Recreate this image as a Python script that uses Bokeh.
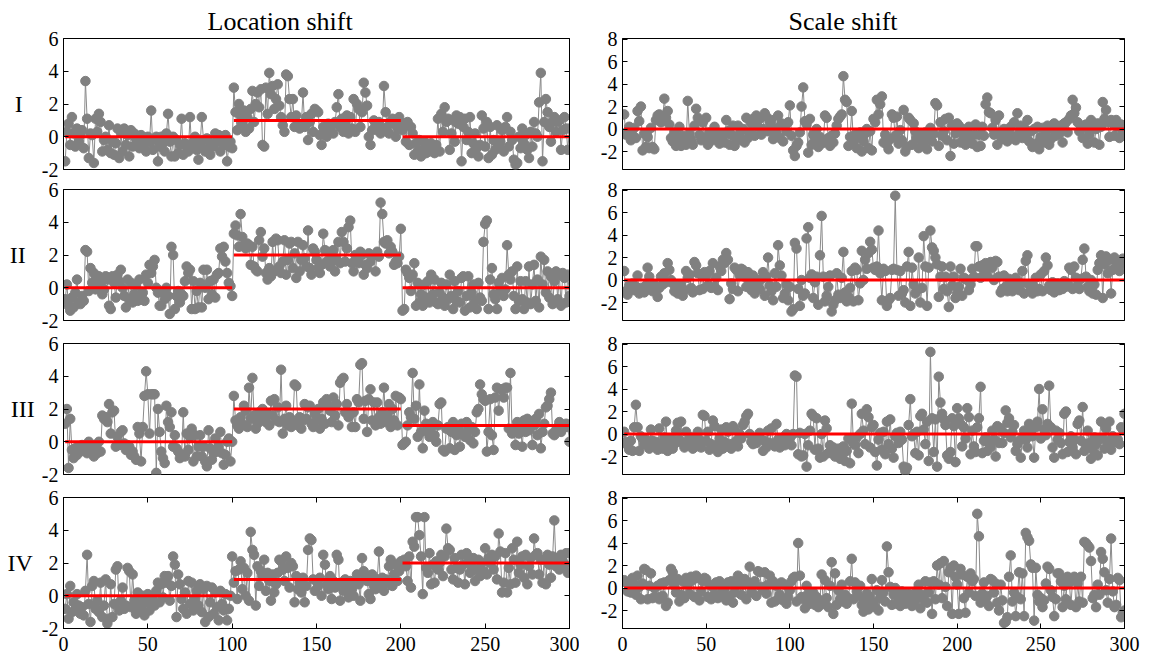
from bokeh.plotting import figure
from bokeh.layouts import column, row
from bokeh.models import Range1d, LinearAxis, FixedTicker, Title
from bokeh.embed import file_html
from bokeh.resources import INLINE

# ---------------- data ----------------
loc_I = [
    -1.5, 0.3, 0.8, -0.5, 1.2, 0.2, -0.6, 0.5, -0.3, 0.1,
    0.4, -0.7, 3.4, 1.1, -1.3, 0.2, 0.1, -1.6, 1.1, 0.3,
    1.4, 0.9, -0.9, -0.2, 0.0, -0.8, 0.7, -1.0, -0.3, -1.1,
    -0.4, 0.5, -1.3, 0.3, -0.9, 0.5, -0.5, 0.1, -1.2, 0.4,
    -0.6, 0.2, -0.1, -0.4, -0.7, 0.1, -0.2, -0.5, -0.9, 0.0,
    -0.3, 1.6, -0.8, -0.2, 0.0, -1.5, -0.6, 0.0, -0.4, -0.9,
    0.2, 1.4, -0.3, -1.2, 0.0, -1.2, -0.2, -1.0, -0.5, 1.1,
    -1.1, -0.4, -0.6, -0.9, 1.2, -0.7, -0.3, 0.0, -0.8, -1.4,
    -0.5, 1.2, -0.2, -0.9, -0.1, -0.7, -1.1, -0.4, -0.6, 0.2,
    -0.3, 0.1, -0.9, -0.2, -0.5, 0.1, -1.5, -0.6, -0.3, -0.7,
    3.0, 1.5, 0.4, 2.0, 1.3, 0.8, 1.6, 0.3, 1.2, 0.5,
    1.7, 2.8, 0.9, 2.0, 2.7, 1.8, 2.9, -0.5, -0.6, 3.0,
    1.4, 3.9, 2.6, 3.1, 1.7, 2.3, 3.2, 1.9, 1.2, 0.7,
    0.3, 3.8, 3.7, 2.3, 1.2, 2.3, 0.6, 1.3, 0.8, 0.5,
    0.7, 2.7, 0.6, 1.2, -0.2, 0.9, 1.4, 0.3, 1.7, 1.6,
    1.5, 0.1, -0.5, 0.6, 0.4, 0.0, 0.8, 0.5, 0.7, 0.2,
    0.9, 1.8, 2.6, 0.6, 1.1, 0.3, 0.8, 1.3, 0.2, 1.2,
    0.5, 2.3, 0.3, 2.0, 1.7, 0.6, 1.5, 3.3, 2.7, 1.9,
    0.0, -0.5, 0.4, 1.0, 0.7, 0.4, 0.9, 0.2, 0.5, 3.1,
    1.5, 0.6, 0.2, 0.9, 1.1, 0.8, 0.0, 0.5, 1.2, 0.6,
    0.4, 0.8, -0.3, 0.9, -0.5, 0.6, 0.2, -1.1, -0.4, -0.9,
    -0.2, -1.2, -0.8, -0.3, -1.0, -0.6, -0.9, -0.4, -0.7, -1.0,
    -0.5, 1.1, -0.9, 1.4, 0.3, 1.8, 0.9, 1.1, -0.8, 0.2,
    1.0, -0.3, 1.3, 0.8, 1.2, -1.5, 0.6, 1.1, -0.2, 0.3,
    1.2, -1.0, -0.4, 0.2, -0.7, -1.2, -0.5, 1.3, 0.5, -0.6,
    0.9, -1.3, 0.6, -1.1, -0.2, -0.8, 0.7, -0.5, -0.3, 0.4,
    -0.9, 0.6, 1.2, -0.6, 0.3, -0.2, -1.4, -1.7, -1.6, 0.0,
    -0.7, 0.5, -0.4, 0.1, -0.8, -1.3, 0.3, -0.6, 0.9, 0.2,
    0.0, 2.1, 3.9, -1.5, 0.9, 2.3, 1.5, 0.6, -0.3, 0.9,
    1.2, 0.3, 0.9, 1.0, -0.8, 0.4, 1.2, 0.5, -0.8, 0.5,
]

loc_II = [
    -0.7, 0.2, -1.1, -1.4, -0.6, -1.2, -0.3, 0.5, -0.9, -1.0,
    -0.5, -0.8, 2.3, 2.2, -0.2, 1.2, 0.3, 0.9, -0.1, 0.6,
    0.7, 0.2, -0.4, -0.1, 0.7, 0.5, -1.1, -1.3, 0.7, 0.3,
    -0.6, 0.8, 0.4, 1.1, 0.0, -0.5, -1.2, 0.5, -0.7, 0.3,
    -0.9, -0.4, 0.1, -0.8, 0.5, -0.6, -0.3, -0.8, 0.8, 0.3,
    1.4, 0.9, 1.3, 1.7, 0.0, -0.3, -1.1, -1.1, -0.3, -0.7,
    0.0, -0.5, -1.6, 2.5, 2.0, -1.3, -0.5, -0.2, -0.9, -0.4,
    -0.5, 0.4, 1.3, 0.9, 1.1, -1.3, 0.4, -1.3, -0.2, -1.2,
    0.3, -1.2, 1.1, 0.0, 1.1, -0.7, 0.4, -0.4, 0.5, -0.6,
    0.8, 0.9, 2.4, 1.9, 2.5, 1.6, 0.9, 0.3, 0.1, -0.5,
    3.3, 3.8, 3.2, 2.5, 4.5, 3.1, 2.6, 2.4, 2.7, 2.6,
    1.4, 2.5, 1.3, 1.1, 1.0, 2.9, 3.4, 1.9, 2.4, 0.9,
    0.5, 1.2, 0.7, 2.8, 1.0, 3.0, 2.9, 1.3, 0.9, 1.6,
    2.9, 0.8, 1.7, 2.7, 2.8, 1.2, 2.1, 0.6, 2.8, 1.0,
    1.7, 2.6, 1.8, 1.3, 3.5, 1.2, 0.8, 2.4, 2.2, 1.7,
    1.2, 0.9, 1.4, 3.3, 2.3, 1.6, 2.2, 1.3, 1.8, 2.3,
    1.0, 1.7, 2.8, 1.5, 3.4, 2.8, 1.6, 2.4, 3.7, 4.1,
    1.5, 1.0, 2.0, 1.8, 1.5, 2.2, 2.0, 0.8, 1.4, 1.2,
    2.1, 1.6, 1.9, 2.0, 1.0, 2.2, 1.9, 5.2, 4.5, 2.8,
    2.7, 2.9, 2.1, 2.5, 2.2, 1.4, 1.6, 1.5, 1.9, 3.6,
    -1.4, -1.3, 1.1, 0.9, 0.6, -0.2, 0.8, 1.5, -1.1, 0.3,
    -0.9, -0.4, -1.1, 0.2, -0.6, 0.4, -0.9, 0.8, -0.4, 0.5,
    -0.9, -1.0, -0.3, 0.3, -0.6, -1.1, 0.2, -0.7, 0.8, -0.5,
    -1.3, 0.4, -0.8, -0.2, -0.9, 0.6, 0.7, -1.4, -0.5, 0.7,
    -1.2, -0.3, 0.2, -0.8, -1.3, 0.3, -0.6, -0.8, 2.8, 3.9,
    4.1, -1.3, 0.5, 1.2, -0.4, -0.7, -1.3, 0.3, -0.2, 0.6,
    -0.5, -0.1, 2.6, 0.8, 0.5, 1.0, -0.5, -1.3, 1.3, -0.8,
    0.4, -0.7, -1.3, 0.4, -0.9, 1.3, -1.0, 0.2, 1.4, -0.8,
    0.5, -1.2, 1.9, 0.2, 1.7, -0.3, 1.0, -0.6, 0.7, -1.0,
    0.4, 1.0, -0.7, 0.8, -1.1, 0.9, 0.6, -0.9, 0.8, -0.5,
]

loc_III = [
    1.1, 2.0, -1.6, 1.4, -0.5, -1.0, -0.4, -0.8, -0.3, -0.6,
    -0.2, -0.5, -0.3, -0.7, 0.0, -0.4, -0.6, -0.9, -0.2, -0.7,
    0.0, -0.6, 1.6, 1.4, 1.5, 1.2, 2.3, 0.5, 1.8, 1.9,
    -0.3, 0.3, -0.2, 0.6, 0.7, -0.1, -0.5, -0.2, -0.3, -0.8,
    -0.6, -0.9, -1.1, 0.9, 0.5, -1.2, 0.9, 2.8, 4.3, 2.9,
    0.5, 2.9, 2.9, 2.9, -1.9, 2.0, 0.6, -0.6, -1.0, -1.3,
    2.2, 1.2, 0.9, 1.8, -0.3, 0.4, -0.4, -0.6, -1.0, -0.8,
    1.8, -0.9, 0.5, -0.5, 0.3, 0.8, -1.2, 0.4, -0.9, -0.3,
    0.4, -0.9, -0.3, -1.2, -1.5, 0.7, -0.4, -1.1, -0.7, 0.2,
    -0.6, -0.3, 0.6, -0.7, -1.4, -0.8, 0.0, 0.2, -1.2, 0.0,
    2.8, 1.3, 1.0, 0.8, 1.5, 1.1, 2.2, 1.9, 0.9, 3.3,
    1.4, 3.9, 1.6, 0.8, 1.1, 1.8, 1.3, 2.0, 1.5, 1.2,
    1.7, 1.0, 2.5, 1.6, 2.6, 1.3, 2.1, 1.2, 4.4, 0.5,
    1.4, 2.2, 1.0, 1.5, 0.9, 1.3, 3.5, 3.4, 1.0, 1.5,
    0.8, 1.3, 2.3, 1.4, 2.1, 2.2, 1.1, 0.9, 1.7, 1.3,
    2.0, 0.8, 1.4, 2.4, 1.1, 2.6, 2.2, 1.9, 1.2, 2.7,
    1.6, 2.3, 1.0, 3.6, 3.8, 3.9, 1.8, 2.3, 1.5, 1.7,
    0.9, 1.8, 0.9, 2.6, 2.4, 4.7, 4.8, 1.4, 2.5, 0.6,
    2.6, 3.2, 1.3, 2.4, 1.0, 2.4, 1.5, 1.1, 1.8, 3.3,
    1.2, 1.6, 2.3, 0.9, 2.0, 1.3, 2.8, 1.0, 2.7, 2.6,
    -0.2, -0.1, 0.0, 1.0, 1.8, 1.5, 4.2, 1.4, 2.2, 0.3,
    3.5, 0.6, -0.4, 1.9, 1.1, 0.6, 0.3, 0.9, 1.2, 0.4,
    0.0, 1.0, 2.3, 2.4, -0.5, -0.6, 0.8, 0.9, -0.4, 0.6,
    1.2, -0.5, 0.4, 0.8, -0.3, 1.1, 0.5, 0.3, 1.2, 0.7,
    0.1, 0.9, -0.1, 0.6, 1.8, 2.0, 3.5, 2.9, 2.6, 2.5,
    -0.6, 0.6, 2.6, 0.4, -0.5, 2.7, 3.3, 1.9, 3.2, 3.2,
    2.7, 3.3, 3.3, 0.8, 4.2, 0.5, 0.7, -0.2, 1.2, 0.5,
    0.8, -0.3, 1.3, 0.6, 1.4, 0.7, 0.9, -0.2, 1.0, 1.4,
    0.4, 1.7, -0.4, 0.6, 1.1, 2.1, 2.2, 2.6, 3.0, 0.5,
    0.4, 0.7, 0.9, 1.2, 0.6, 0.8, 1.0, 1.1, 0.9, 0.0,
]

loc_IV = [
    -0.8, 0.1, -1.4, 0.6, -1.0, -0.4, -0.9, 0.1, -0.6, -1.1,
    -0.7, -1.2, 0.3, 2.5, -0.5, -1.6, 0.6, 0.9, -0.8, -0.3,
    -1.0, 0.8, -1.3, -0.6, 1.0, -1.7, -1.4, 0.7, -1.3, -0.5,
    1.6, 1.8, -0.9, -0.3, 0.5, -0.8, -0.6, 1.7, 1.5, -0.7,
    1.3, -0.3, -1.1, 0.2, -0.5, -0.8, 0.0, -1.2, -0.4, 0.1,
    -0.9, -0.2, 0.0, -0.6, 0.3, 0.8, -0.4, 0.7, -0.1, 1.2,
    0.8, 1.2, -0.3, 0.6, 2.4, 1.9, -1.3, 1.3, 0.7, -0.2,
    -0.8, 0.2, -1.1, 0.9, -0.5, 0.8, -0.9, -0.2, 0.3, -0.6,
    0.7, -1.0, 0.4, -1.6, 0.6, -1.3, -0.4, 0.5, -1.1, 0.2,
    -0.7, -1.5, 0.3, -0.5, -0.9, 0.1, -1.5, -0.8, 0.0, 2.4,
    0.8, 1.5, -0.2, 1.6, 2.1, 0.4, 1.7, 0.0, 1.4, -0.3,
    3.9, 2.8, 2.5, -0.6, 1.8, 0.6, 1.5, 1.2, 2.2, 0.3,
    1.4, 0.9, -0.3, 1.3, 0.2, 0.7, 1.4, 2.2, 2.1, 1.6,
    0.9, 2.4, 1.7, 0.5, 2.0, 1.8, -0.4, 1.2, 0.4, 0.8,
    0.2, 1.1, -0.4, 0.6, 2.8, 3.5, 3.4, 1.0, 0.3, 0.9,
    0.6, 1.1, 0.0, 2.5, 1.9, 0.7, 0.4, 1.2, -0.2, 0.9,
    0.5, 2.5, 2.2, -0.3, 0.8, 0.3, 1.0, 0.6, -0.1, 0.9,
    0.4, 0.0, 0.8, 1.3, 0.7, -0.3, 2.3, 1.5, 1.2, 0.9,
    0.1, -0.2, 1.3, 0.6, 0.4, 1.0, 2.7, 0.5, 1.1, 0.3,
    1.0, 0.8, 1.8, 2.2, 0.6, 1.3, 1.9, 0.9, 1.5, 2.1,
    2.0, 2.2, 1.8, 0.9, 2.4, 0.5, 3.3, 3.0, 4.8, 4.8,
    3.7, 2.4, 0.1, 4.8, 1.7, 1.4, 2.6, 0.7, 1.9, 0.8,
    2.1, 1.6, 2.0, 2.5, 1.2, 2.4, 4.1, 2.9, 2.8, 1.6,
    1.0, 2.3, 1.7, 0.8, 1.6, 2.5, 1.9, 0.7, 2.6, 2.1,
    1.4, 1.8, 2.3, 0.9, 1.6, 2.2, 1.2, 2.0, 1.5, 2.9,
    1.3, 2.3, 2.0, 2.5, 1.6, 2.4, 1.0, 3.8, 2.7, 0.2,
    0.8, 2.6, 0.2, 1.7, 0.7, 2.9, 2.2, 0.8, 3.3, 1.4,
    1.9, 2.4, 1.1, 2.5, 0.7, 1.8, 2.3, 1.3, 3.5, 2.5,
    2.6, 1.3, 2.2, 0.8, 2.2, 0.7, 2.5, 1.9, 1.1, 2.4,
    4.6, 1.8, 2.2, 1.6, 2.5, 2.1, 1.9, 2.6, 1.4, 2.6,
]

scale_I = [
    1.3, -0.5, -0.2, 0.2, -1.0, -0.6, 0.1, -0.8, 1.6, 0.7,
    2.0, -1.9, -0.4, -1.6, -0.7, -1.7, 0.1, -1.6, -1.8, 0.8,
    1.2, 1.3, 0.6, 0.9, 2.7, 1.0, 1.6, 0.4, -0.8, -1.1,
    -0.3, -1.5, -0.9, 0.2, -1.5, -0.6, -1.0, -1.4, 2.5, -0.4,
    -0.9, -1.4, 0.3, 1.8, 1.0, -0.5, -1.0, 0.6, -0.8, 1.0,
    -1.4, -0.3, -0.8, -1.0, 0.2, -0.6, -0.9, -1.3, -0.4, -0.7,
    -1.2, 0.8, -0.2, -1.4, -0.5, 0.3, -1.5, -0.9, 0.3, -0.4,
    -1.0, 0.0, -1.2, 1.0, -0.8, -0.3, 0.5, 0.9, -0.6, 1.2,
    0.2, 0.9, -0.5, 0.0, 1.4, 1.1, -0.2, 0.6, 0.8, -0.9,
    0.1, -0.4, 1.2, -0.8, 0.5, -1.1, 0.3, -0.2, 0.6, 2.1,
    -0.6, -1.9, -2.4, -1.5, -1.2, -0.3, 2.0, 3.7, 0.7, 0.4,
    -2.1, 0.9, -1.4, -0.5, -0.9, 0.0, -1.6, -0.7, -1.3, -1.1,
    1.2, 1.0, -0.8, -1.5, -0.6, -1.2, -0.4, 0.3, 0.9, 1.1,
    1.3, 4.7, 2.6, 2.4, -1.5, -0.7, 1.6, -1.0, -0.5, -1.7,
    -0.8, -0.3, -2.0, -1.1, -0.4, 0.0, -1.7, -0.2, -1.9, 0.9,
    0.6, 2.6, 1.3, 2.2, 2.9, -1.2, -0.5, -1.4, -1.8, -0.9,
    1.3, 1.0, -0.6, 1.1, -1.3, -0.1, -1.0, 1.7, -2.0, -1.6,
    1.0, 0.8, -1.4, 0.5, -0.2, -0.8, -1.7, -0.9, -0.4, -1.2,
    -0.3, -1.8, -0.7, 0.1, -1.1, -0.4, 2.3, 2.1, -1.5, 0.6,
    -0.6, -0.2, 0.9, -1.0, 1.0, -2.4, 0.3, -1.3, -0.4, 0.5,
    0.3, -1.2, 0.0, -0.7, -1.4, -0.3, 0.2, -1.0, -1.3, -0.5,
    0.4, -1.6, -0.5, -1.5, 0.2, -0.6, 2.2, 2.8, 1.5, 1.4,
    0.1, -0.5, 0.8, -1.4, 1.2, -0.3, -0.9, 0.0, -0.6, -1.1,
    -0.3, 0.2, -0.7, 0.6, -1.0, 1.4, -0.4, 0.3, -0.8, 0.1,
    -0.5, 0.8, -1.1, -0.2, -1.6, 0.0, -1.3, 0.2, -1.8, -0.7,
    0.1, -1.2, -0.4, 0.3, -1.4, -0.9, 0.0, 0.5, -0.6, 0.2,
    -0.4, 0.3, -1.2, 0.5, 0.6, -0.3, 0.9, 1.2, 2.6, 1.4,
    1.9, 0.6, -0.2, 0.3, -0.8, 0.1, 0.4, -1.3, -0.5, 0.8,
    0.3, -1.2, 0.0, 0.5, -1.4, 0.2, 2.4, 0.9, 1.7, 0.6,
    -0.7, 0.8, 0.5, -0.6, 0.8, 0.2, -0.8, 0.4, -0.4, -0.6,
]

scale_II = [
    0.8, -1.0, -1.3, -0.5, -0.8, -0.3, -0.9, -0.6, 0.4, -1.2,
    -0.7, -0.9, -1.1, -0.5, 1.1, 0.3, -0.6, -1.0, -0.4, -0.8,
    -1.5, -0.7, 0.3, -0.4, 0.6, -0.2, 1.5, 0.9, 0.0, -0.3,
    -1.0, -0.6, -1.2, -0.8, -0.4, -1.4, -0.9, 0.8, 0.2, 0.5,
    -0.7, -1.1, 1.6, 1.3, 0.6, -0.9, 0.5, -0.8, 0.7, 0.4,
    -0.5, 0.8, -0.7, 1.5, -0.6, 0.2, -0.9, 1.2, 0.8, 1.8,
    1.5, 2.4, 1.8, -1.7, -0.3, -0.8, 1.1, 0.9, -1.0, 0.4,
    1.0, 0.9, 0.3, -0.6, 0.7, -0.2, -0.9, 0.4, -1.2, 0.0,
    -0.4, -0.8, 0.1, 0.7, -1.4, 0.3, 2.0, -0.5, -1.0, -1.8,
    0.6, -0.6, 3.1, 1.3, 0.4, -1.6, -1.2, -0.4, -1.8, -0.6,
    -2.8, -2.6, 3.3, 2.8, -0.8, -2.3, 0.0, -1.4, -1.2, 3.7,
    4.7, 0.2, 0.5, -1.6, -0.2, 0.3, -2.2, 2.2, 5.7, 0.3,
    -1.9, -1.4, -0.6, 0.4, -2.8, -2.2, -1.8, 0.6, -1.3, -1.6,
    0.2, 2.5, -1.1, -1.9, -1.5, -0.7, 0.8, -1.9, 1.1, 0.9,
    -1.8, -0.3, 2.6, 0.0, 1.8, 1.0, 2.4, 3.4, 2.7, 1.1,
    0.9, 1.2, 4.4, 0.6, -1.8, 1.0, 0.8, -2.3, -1.8, -1.6,
    0.9, 1.0, 7.5, 0.9, -1.4, 0.8, -1.2, -0.9, -2.0, 1.2,
    2.5, -2.3, 1.1, -0.4, -1.2, -0.9, 2.0, -2.0, -0.7, 3.9,
    1.2, -2.3, 1.1, 4.4, 2.9, 2.6, 2.0, 1.4, -1.5, 0.3,
    1.2, -0.8, 0.3, -1.0, -2.4, 1.2, -0.5, 0.3, -1.6, -1.2,
    -0.6, 1.0, -1.4, 0.2, 0.1, 0.0, -0.9, -0.4, 1.0, 0.3,
    3.0, 3.0, 1.2, 0.2, 1.3, 0.9, 1.5, 0.4, 1.2, 1.6,
    1.1, 0.0, 1.7, 1.6, 0.3, -1.1, -0.8, 0.4, -0.6, -1.0,
    0.1, -0.8, -1.0, -0.5, 0.2, -0.7, -0.9, -0.3, 0.8, -1.2,
    1.7, 2.2, -0.4, -0.9, -1.2, -0.6, 0.2, -1.0, -0.8, 0.5,
    -1.0, 0.8, 2.0, 1.3, -0.5, -0.9, -0.2, -1.1, -0.7, -0.3,
    -0.9, -0.4, -0.8, -0.1, -0.6, -0.3, 1.1, 0.9, -0.8, 1.2,
    0.2, -0.5, -0.8, 0.1, 1.8, 2.8, 0.3, -0.6, -1.0, 0.0,
    -1.2, -0.4, -1.3, 0.9, 1.5, 2.2, -1.6, 1.4, 2.1, 0.6,
    1.8, -1.2, 0.9, 2.0, 1.2, 1.7, 0.8, 1.5, 1.9, 1.5,
]

scale_III = [
    0.2, -0.7, -1.0, -1.4, -0.6, -1.5, 0.6, 2.6, 0.6, -1.5,
    -0.2, -0.4, -0.9, -0.5, -0.8, -1.3, 0.4, -0.6, -1.1, -0.7,
    -1.4, 0.5, -0.9, -1.3, -0.3, 1.1, -1.5, -0.7, -0.4, -1.3,
    -0.9, 0.3, 1.0, -0.5, 1.1, -0.8, -1.2, 0.2, -0.6, -1.0,
    -0.3, -1.3, -0.7, -1.1, 0.2, -0.5, -1.2, 1.7, 1.6, -0.6,
    0.2, -1.4, -0.9, 1.2, 0.7, -1.0, -1.6, -0.4, 0.4, -1.3,
    -0.7, 0.6, 0.2, -0.9, -1.3, 0.7, 0.4, -0.6, -1.1, 0.0,
    -0.4, 0.8, 1.1, 1.6, 1.8, 0.0, -0.7, -0.9, -0.5, -0.8,
    -0.3, 0.1, -0.5, -1.5, -0.6, -1.2, 0.3, -0.8, 0.5, -0.9,
    -1.1, 0.9, -0.5, -1.2, -0.7, -0.3, -1.0, 0.0, -0.6, -0.4,
    -1.0, 0.0, 5.2, 5.1, -1.8, 0.1, -2.0, -1.9, 0.0, -2.9,
    -1.0, 0.3, 1.8, 1.6, -1.4, 1.4, -1.3, -2.1, 0.0, -2.0,
    1.2, 0.5, -1.7, -1.0, -1.4, -1.2, -2.0, -1.6, -1.3, -2.2,
    -1.8, -1.1, -2.4, -1.5, -0.4, -2.6, 2.7, -0.8, -1.0, -0.3,
    -1.7, 0.0, 1.8, 0.3, -0.9, 2.2, 1.5, -1.2, 0.6, 0.8,
    -1.6, -2.8, -0.5, 0.1, -1.4, 0.2, -1.8, 1.1, -0.9, 1.3,
    -1.3, -2.1, -0.2, 0.1, -0.8, 0.2, -0.5, -2.9, -3.3, -3.0,
    0.8, 3.1, -0.2, 0.0, -1.7, 0.2, -1.9, 1.6, 1.8, 0.4,
    -0.9, 1.1, -2.4, 7.3, 1.4, -1.6, 1.3, -2.9, 5.1, 2.8,
    1.8, 1.3, 0.8, -1.9, -2.2, -1.6, 1.4, 0.7, -2.5, 2.3,
    1.4, 0.9, -1.1, 0.6, -0.4, 2.3, 1.5, -1.8, 0.3, -1.1,
    -1.6, 0.6, 1.4, 4.2, -1.7, -0.6, -0.3, -1.5, -0.8, -1.2,
    0.3, -0.5, -2.0, 0.7, -0.8, 0.5, -0.8, 0.1, 2.1, 1.0,
    1.4, -0.3, 0.2, 0.8, -1.5, -0.9, -0.6, -2.1, -0.4, 0.3,
    -0.5, -1.2, 0.9, 0.4, -0.2, -2.1, 0.6, 1.1, 4.0, -0.4,
    2.2, 0.4, -0.1, 0.9, 4.3, 0.6, -1.2, -2.1, 0.3, -0.5,
    0.1, -0.8, -1.8, 1.8, 2.0, -1.6, -0.7, -0.2, -1.2, -0.5,
    -1.8, 0.9, 1.2, -0.6, 2.4, -1.5, -1.1, 0.3, -0.8, -2.2,
    -1.4, -0.3, -0.9, -1.9, -0.5, 1.1, -0.4, -1.3, 0.5, -0.7,
    1.1, -1.4, -0.2, -0.6, -0.7, -0.5, -0.9, 0.6, 0.4, 1.8,
]

scale_IV = [
    0.7, 0.5, -0.3, 0.0, -0.4, 0.9, 0.3, -0.6, 1.1, 0.1,
    -1.0, 0.4, 1.7, 1.6, -1.0, 0.2, 1.3, -0.9, 0.0, -0.8,
    0.2, -1.0, 0.4, -0.7, 0.5, -1.6, -1.3, 0.7, 1.7, 1.4,
    0.2, -0.4, 0.8, -1.2, -0.6, 0.6, -0.9, 0.9, 0.3, -0.5,
    1.0, 0.7, -0.8, 1.1, 0.9, -1.1, -0.3, 0.6, 0.9, 0.8,
    -0.8, 0.3, -1.0, 0.1, -0.6, 0.5, -0.9, 0.6, -0.4, 0.2,
    0.0, -1.1, 0.5, -0.7, 0.6, -1.3, -0.4, 0.2, 1.1, 0.4,
    -0.6, 0.3, 0.8, -1.0, 0.5, 1.9, -0.4, 0.2, 0.6, -0.7,
    1.5, 1.4, 0.1, -0.2, 1.4, -0.5, 0.3, 1.1, -1.3, 0.6,
    -1.2, 0.2, -1.0, -0.6, 0.5, -1.1, 0.3, -1.4, -0.8, -0.2,
    0.6, 0.9, 1.0, -1.2, 4.0, 1.1, -0.8, -1.0, -1.8, 0.2,
    -0.5, -1.4, -0.9, -0.4, -1.5, -0.8, -1.7, -1.1, 1.2, -1.4,
    0.7, -0.9, -1.7, 0.2, 2.3, -2.3, 1.3, -1.5, -0.2, -1.0,
    0.3, -1.2, -0.6, -1.4, -0.9, 0.6, 2.6, -1.0, 0.5, -0.3,
    -0.7, 0.2, -1.5, -2.1, -1.2, -0.5, -1.9, -0.8, 0.8, -1.3,
    -1.7, -0.2, -2.0, -0.9, 0.7, -0.4, -1.2, 3.7, 1.4, 0.1,
    -1.5, -0.6, 0.0, -1.4, -0.9, -1.6, -0.3, -1.0, -1.4, -0.7,
    -0.5, -1.3, -1.6, -0.8, -1.1, -0.2, 0.3, -1.8, -0.6, -1.0,
    0.6, -1.3, -0.4, 0.5, -2.3, 0.6, -1.0, 2.0, 0.3, 2.2,
    -0.9, 2.4, 0.1, -1.6, 1.4, 1.8, -2.3, 2.0, 1.0, 0.3,
    -2.3, 1.7, 1.2, -0.9, -2.2, 1.0, -0.4, 1.3, 0.6, 0.8,
    -0.7, 6.6, 4.6, -1.3, -0.5, 0.5, -1.0, -0.7, -1.6, 0.8,
    0.7, -0.4, 0.4, -1.3, -2.0, 0.3, -1.1, -3.1, -3.0, -2.6,
    1.0, 2.9, -1.2, -0.4, -2.5, -0.8, 1.4, -1.0, 1.3, -2.5,
    4.9, 4.5, 4.2, 2.1, 1.8, -2.9, 1.8, -0.6, -1.2, -0.9,
    -1.7, -1.1, 0.4, 1.9, 1.7, -0.2, -0.8, -2.5, -1.0, 1.3,
    1.3, 0.6, -1.7, 0.2, -1.0, 1.0, 0.5, -1.5, 0.7, 1.0,
    -1.7, 0.4, -1.2, 1.0, -1.3, 4.1, 4.0, 3.8, 3.6, 2.4,
    -0.9, -0.6, -1.7, 0.3, -0.6, 3.2, 2.6, 1.4, -0.2, -1.3,
    0.8, 4.4, -0.3, -1.7, -1.5, 0.9, 0.7, -2.6, -2.2, -2.0,
]

# true levels (red lines): segment boundaries and level per segment
seg_start = [1, 101, 201]
seg_end = [100, 200, 300]
loc_levels = {"I": [0, 1, 0], "II": [0, 2, 0], "III": [0, 2, 1], "IV": [0, 1, 2]}
scale_start = [1]
scale_end = [300]
scale_level = [0]

row_names = ["I", "II", "III", "IV"]
loc_series = [loc_I, loc_II, loc_III, loc_IV]
scale_series = [scale_I, scale_II, scale_III, scale_IV]

loc_yticks = [-2, 0, 2, 4, 6]
scale_yticks = [-2, 0, 2, 4, 6, 8]
x_ticks = [0, 50, 100, 150, 200, 250, 300]

FONT = "Liberation Serif"
GRAY = "#808080"

# vertical borders per row (top, bottom)
row_borders = [(38, 10), (10, 12), (11, 12), (11, 32)]
# horizontal standoff of the row label per row
label_standoff = [16, 13, 4, 6]


def style_axis(ax, ticks, show_labels=True, standoff=5):
    ax.ticker = FixedTicker(ticks=ticks)
    ax.major_tick_in = 5
    ax.major_tick_out = 0
    ax.minor_tick_in = 0
    ax.minor_tick_out = 0
    ax.axis_line_color = "black"
    ax.major_tick_line_color = "black"
    ax.major_label_text_font = FONT
    ax.major_label_text_color = "black"
    ax.major_label_text_font_size = "20px"
    if show_labels:
        ax.major_label_standoff = standoff
        ax.major_label_overrides = {t: str(t) for t in ticks}
    else:
        ax.major_label_standoff = 0
        ax.major_label_overrides = {t: "" for t in ticks}


def make_panel(y, x0s, x1s, levels, ylo, yhi, yticks, r, left_col, label=None, title=None):
    top, bottom = row_borders[r]
    last = (r == 3)
    if left_col:
        bl, br, fw = 63, 10, 506
    else:
        bl, br, fw = 43, 27, 502
    p = figure(frame_width=fw, frame_height=131,
               x_range=Range1d(0, 300), y_range=Range1d(ylo, yhi),
               output_backend="svg", toolbar_location=None,
               x_axis_location=("below" if last else None),
               min_border_left=bl, min_border_right=br,
               min_border_top=top, min_border_bottom=bottom,
               background_fill_color="white", border_fill_color="white")
    p.grid.visible = False
    p.outline_line_color = "black"
    p.outline_line_width = 1
    p.outline_line_alpha = 1.0

    yax = p.yaxis[0]
    style_axis(yax, yticks)
    if label is not None:
        yax.axis_label = label
        yax.axis_label_orientation = "horizontal"
        yax.axis_label_text_font = FONT
        yax.axis_label_text_font_size = "24px"
        yax.axis_label_text_font_style = "normal"
        yax.axis_label_text_color = "black"
        yax.axis_label_standoff = label_standoff[r]

    rax = LinearAxis()
    style_axis(rax, yticks, show_labels=False)
    p.add_layout(rax, "right")

    if last:
        style_axis(p.xaxis[0], x_ticks, standoff=8)
        tax = LinearAxis()
        style_axis(tax, x_ticks, show_labels=False)
        p.add_layout(tax, "above")

    if title is not None:
        p.add_layout(Title(text=title[0], align="left", offset=title[1],
                           text_font=FONT, text_font_size="26px",
                           text_font_style="normal", text_color="black",
                           standoff=6), "above")

    xs = list(range(1, len(y) + 1))
    p.line(xs, y, line_color="#8a8a8a", line_width=1)
    p.scatter(xs, y, size=9.5, fill_color=GRAY, line_color=GRAY)
    p.segment(x0=x0s, y0=levels, x1=x1s, y1=levels,
              line_color="#ff0000", line_width=3)
    return p


rows = []
for r in range(4):
    name = row_names[r]
    lp = make_panel(loc_series[r], seg_start, seg_end, loc_levels[name],
                    -2, 6, loc_yticks, r, True, label=name,
                    title=("Location shift", 144) if r == 0 else None)
    sp = make_panel(scale_series[r], scale_start, scale_end, scale_level,
                    -3.6, 8.05, scale_yticks, r, False,
                    title=("Scale shift", 166) if r == 0 else None)
    rows.append(row(lp, sp))

layout = column(*rows)
open("out.html", "w").write(file_html(layout, INLINE))
